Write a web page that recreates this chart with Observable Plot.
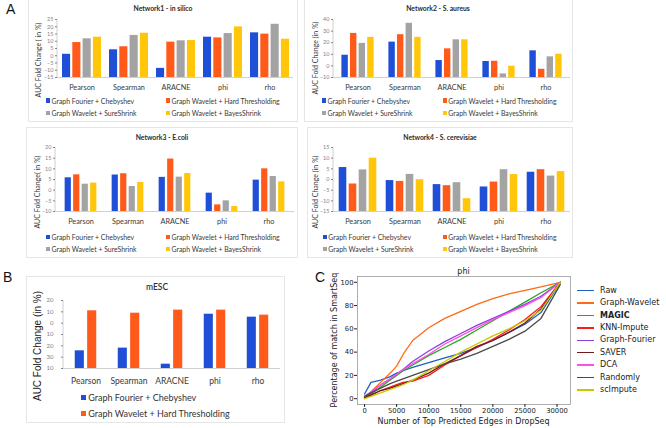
<!DOCTYPE html>
<html><head><meta charset="utf-8">
<script src="https://cdn.jsdelivr.net/npm/d3@7"></script>
<script src="https://cdn.jsdelivr.net/npm/@observablehq/plot@0.6"></script>
<style>
body{margin:0;background:#fff;}
#root{position:relative;width:666px;height:428px;overflow:hidden;background:#fff;font-family:Lato,sans-serif;}
.t{position:absolute;white-space:nowrap;line-height:1;}
.box{position:absolute;border:1px solid #e6e6e6;box-sizing:border-box;background:#fff;}
svg{overflow:visible;}
</style></head><body><div id="root"></div>
<script>
// ---------- DATA ----------
const categories = ["Pearson", "Spearman", "ARACNE", "phi", "rho"];
const methods = ["Graph Fourier + Chebyshev", "Graph Wavelet + Hard Thresholding", "Graph Wavelet + SureShrink", "Graph Wavelet + BayesShrink"];
const methodColors = ["#1f4fd6", "#ff5a1a", "#a3a3a3", "#ffc60a"];

const n1Fourier = [1.0, 4.1, -8.7, 12.8, 15.8];
const n1Hard    = [9.1, 6.2, 9.4, 12.3, 14.9];
const n1Sure    = [11.7, 14.0, 10.3, 15.3, 21.7];
const n1Bayes   = [12.8, 15.5, 10.5, 19.9, 11.4];

const n2Fourier = [9.2, 20.5, 4.6, 3.8, 13.0];
const n2Hard    = [28.0, 26.9, 14.7, 4.0, -2.9];
const n2Sure    = [19.4, 36.7, 22.5, -6.9, 7.8];
const n2Bayes   = [24.6, 24.6, 22.5, -0.3, 10.1];

const n3Fourier = [5.8, 7.1, 6.0, -1.4, 4.7];
const n3Hard    = [7.2, 7.7, 14.6, -6.9, 10.0];
const n3Sure    = [2.8, 1.7, 6.1, -5.0, 6.4];
const n3Bayes   = [3.3, 3.6, 7.8, -7.7, 3.9];

const n4Fourier = [5.6, -0.5, -2.4, -3.5, 3.4];
const n4Hard    = [-2.1, -0.9, -2.9, -1.2, 4.6];
const n4Sure    = [4.5, 2.4, -1.5, 4.6, 1.6];
const n4Bayes   = [10.0, -0.1, -9.0, 2.3, 3.7];

const mescFourier = [-24.4, -22.0, -36.2, 7.9, 5.3];
const mescHard    = [10.9, 8.8, 11.5, 11.5, 7.1];
const mescTicks = [20, 10, 0, -10, -20, -30, -40];
const mescTickLabels = ["20", "10", "0", "10", "20", "30", "10"];

const imputeMethods = ["Raw", "Graph-Wavelet", "MAGIC", "KNN-Impute", "Graph-Fourier", "SAVER", "DCA", "Randomly", "scImpute"];
const imputeColors = ["#1f5fc4", "#ff6a13", "#22aa22", "#ff1a1a", "#8e3ee0", "#6e1c1c", "#ff4fe0", "#4a4a4a", "#c8c800"];
const edgeCounts = [0, 1000, 2500, 4000, 5000, 6000, 7500, 10000, 12500, 15000, 17500, 20000, 22500, 25000, 27500, 30500];
const rawMatch      = [4, 14, 16, 19, 22, 24, 27, 31, 35, 39, 44, 50, 57, 64, 74, 100];
const waveletMatch  = [1, 6, 14, 22, 28, 38, 50, 61, 69, 75, 81, 86, 90, 93, 96, 100];
const magicMatch    = [0, 4, 10, 16, 20, 24, 29, 37, 44, 51, 59, 67, 75, 83, 91, 100];
const knnMatch      = [1, 3, 7, 10, 12, 14, 15, 20, 29, 37, 44, 51, 59, 68, 79, 100];
const fourierMatch  = [1, 5, 12, 17, 21, 25, 32, 41, 49, 56, 63, 69, 75, 81, 88, 100];
const saverMatch    = [1, 3, 7, 9, 11, 13, 16, 22, 30, 37, 45, 50, 57, 65, 77, 100];
const dcaMatch      = [2, 6, 12, 17, 21, 25, 30, 38, 47, 54, 61, 68, 74, 80, 87, 100];
const randomMatch   = [2, 5, 9, 13, 15, 17, 20, 25, 30, 34, 39, 45, 51, 58, 69, 98];
const scimputeMatch = [0, 2, 5, 8, 10, 12, 16, 24, 32, 40, 47, 54, 60, 67, 76, 100];
const cXTicks = [0, 5000, 10000, 15000, 20000, 25000, 30000];
const cYTicks = [0, 20, 40, 60, 80, 100];

// ---------- HELPERS ----------
const root = document.getElementById("root");
function place(el, left, top) {
  el.style.position = "absolute"; el.style.left = left + "px"; el.style.top = top + "px";
  root.appendChild(el);
}
function txt(s, x, y, css, anchor = "middle", rot = false) {
  const d = document.createElement("div");
  d.className = "t"; d.textContent = s;
  d.style.cssText += css;
  d.style.left = x + "px"; d.style.top = y + "px";
  const tx = anchor === "middle" ? "-50%" : anchor === "end" ? "-100%" : "0";
  d.style.transform = rot ? "translate(-50%,-50%) rotate(-90deg)" : `translate(${tx},-50%)`;
  root.appendChild(d);
  return d;
}
function box(l, t, r, b) {
  const d = document.createElement("div"); d.className = "box";
  d.style.left = l + "px"; d.style.top = t + "px"; d.style.width = (r - l) + "px"; d.style.height = (b - t) + "px";
  root.appendChild(d);
}
function leftLine(color) {
  return (index, scales, values, dim) => {
    const l = document.createElementNS("http://www.w3.org/2000/svg", "line");
    l.setAttribute("x1", dim.marginLeft); l.setAttribute("x2", dim.marginLeft);
    l.setAttribute("y1", dim.marginTop); l.setAttribute("y2", dim.height - dim.marginBottom);
    l.setAttribute("stroke", color); l.setAttribute("stroke-width", 0.8);
    return l;
  };
}
function barPanel(cfg) {
  const rows = cfg.series.flatMap((arr, s) => arr.map((v, i) => ({cat: categories[i], s, v})));
  const bw = (cfg.width - cfg.mL - cfg.mR) / categories.length;
  const inset = (bw - cfg.barW) / 2;
  const marks = [
    ...cfg.series.map((arr, s) => Plot.barY(rows.filter(d => d.s === s), {
      x: "cat", y1: cfg.yDomain[0], y2: "v", fill: cfg.colors[s], dx: cfg.offsets[s], insetLeft: inset, insetRight: inset
    })),
    Plot.ruleY([cfg.yDomain[0]], {stroke: "#c4c4c4", strokeWidth: 0.8}),
    leftLine("#c4c4c4"),
    Plot.axisY({ticks: cfg.yTicks, tickSize: 2, tickPadding: cfg.tickPad ?? 2, tickFormat: cfg.tickFmt, fontSize: cfg.tickFont, color: "#7d8492", label: null}),
    Plot.axisX({tickSize: 0, tickPadding: cfg.catPad, fontSize: cfg.catFont, color: "#3a3a3a", label: null})
  ];
  const svg = Plot.plot({
    width: cfg.width, height: cfg.height,
    marginLeft: cfg.mL, marginRight: cfg.mR, marginTop: cfg.mT, marginBottom: cfg.mB,
    x: {domain: categories, padding: 0},
    y: {domain: cfg.yDomain},
    style: {fontFamily: "Lato, sans-serif", background: "transparent", overflow: "visible"},
    marks
  });
  place(svg, cfg.left, cfg.top);
}
function legend2x2(xA, xB, y1, y2, size, font) {
  const pos = [[xA, y1], [xB, y1], [xA, y2], [xB, y2]];
  methods.forEach((m, i) => {
    const s = document.createElement("div");
    s.style.cssText = `position:absolute;left:${pos[i][0]}px;top:${pos[i][1] - size / 2}px;width:${size}px;height:${size}px;background:${methodColors[i]}`;
    root.appendChild(s);
    txt(m, pos[i][0] + size + 1.5, pos[i][1], `font-size:${font}px;color:#3a3a3a;font-family:Lato,sans-serif;`, "start");
  });
}

// ---------- PANEL A ----------
box(28, -2, 298, 122); box(304, -2, 573, 122);
box(26, 127, 298, 258); box(307, 127, 573, 258);
box(26, 276, 285, 423);

txt("A", 6, 9, "font-size:14px;color:#111;font-family:'Liberation Sans',Arial;", "start");

const titleCss = "font-size:6.8px;font-weight:700;color:#2a2a2a;font-family:Lato,sans-serif;";
const ylabCss = "font-size:7px;color:#3a3a3a;font-family:Lato,sans-serif;";

// Network1
txt("Network1 - in silico", 163, 7.5, titleCss);
txt("AUC Fold Change ( in %)", 38, 59.5, ylabCss, "middle", true);
barPanel({series: [n1Fourier, n1Hard, n1Sure, n1Bayes], colors: methodColors, left: 28, top: 0, width: 270, height: 95,
  mL: 29, mR: 5, mT: 19, mB: 18, yDomain: [-15, 25], yTicks: d3.range(-15, 26, 5), tickFont: 5.5, catFont: 7.3, catPad: 7,
  barW: 8.3, offsets: [-15.45, -5.15, 5.15, 15.45]});
legend2x2(45.7, 165.7, 100.5, 113, 4.3, 6.9);

// Network2
txt("Network2 - S. aureus", 438, 7.5, titleCss);
txt("AUC Fold Change (in %)", 315, 58, ylabCss, "middle", true);
barPanel({series: [n2Fourier, n2Hard, n2Sure, n2Bayes], colors: methodColors, left: 304, top: 0, width: 269, height: 95,
  mL: 29, mR: 3, mT: 19, mB: 18, yDomain: [-10, 40], yTicks: d3.range(-10, 41, 10), tickFont: 5.5, catFont: 7.3, catPad: 7,
  barW: 6.8, offsets: [-12.9, -4.3, 4.3, 12.9]});
legend2x2(321.7, 442.5, 100.5, 113, 4.3, 6.9);

// Network3
txt("Network3 - E.coli", 162, 136.5, titleCss);
txt("AUC Fold Change( in %)", 37, 192, ylabCss, "middle", true);
barPanel({series: [n3Fourier, n3Hard, n3Sure, n3Bayes], colors: methodColors, left: 26, top: 126, width: 272, height: 100,
  mL: 29, mR: 4, mT: 21, mB: 15, yDomain: [-10, 20], yTicks: d3.range(-10, 21, 5), tickFont: 5.5, catFont: 7.3, catPad: 7,
  barW: 7, offsets: [-12.75, -4.25, 4.25, 12.75]});
legend2x2(45.7, 165.7, 237, 249, 4.3, 6.9);

// Network4
txt("Network4 - S. cerevisiae", 440, 136.5, titleCss);
txt("AUC Fold Change (in %)", 315, 192, ylabCss, "middle", true);
barPanel({series: [n4Fourier, n4Hard, n4Sure, n4Bayes], colors: methodColors, left: 307, top: 126, width: 266, height: 100,
  mL: 26, mR: 3, mT: 21, mB: 15, yDomain: [-15, 15], yTicks: d3.range(-15, 16, 5), tickFont: 5.5, catFont: 7.3, catPad: 7,
  barW: 8, offsets: [-15, -5, 5, 15]});
legend2x2(322.5, 442.5, 237, 249, 4.3, 6.9);

// ---------- PANEL B ----------
txt("B", 3, 277, "font-size:14px;color:#111;font-family:'Liberation Sans',Arial;", "start");
txt("mESC", 157, 287, "font-size:8.5px;font-weight:600;color:#333;font-family:Lato,sans-serif;");
txt("AUC Fold Change (in %)", 38, 346, "font-size:10px;color:#222;font-family:'Liberation Sans',Arial;", "middle", true);
barPanel({series: [mescFourier, mescHard], colors: methodColors, left: 26, top: 276, width: 259, height: 110,
  mL: 37, mR: 5, mT: 24, mB: 18, yDomain: [-40, 20], yTicks: mescTicks,
  tickFmt: d => mescTickLabels[mescTicks.indexOf(d)], tickFont: 6, tickPad: 8, catFont: 8.5, catPad: 9,
  barW: 9.5, offsets: [-6.2, 6.2]});
[0, 1].forEach(i => {
  const y = [397, 413][i];
  const s = document.createElement("div");
  s.style.cssText = `position:absolute;left:81px;top:${y - 2.5}px;width:5px;height:5px;background:${methodColors[i]}`;
  root.appendChild(s);
  txt(methods[i], 88.3, y, "font-size:9px;color:#333;font-family:Lato,sans-serif;", "start");
});

// ---------- PANEL C ----------
txt("C", 315, 277, "font-size:14px;color:#111;font-family:'Liberation Sans',Arial;", "start");
const cSeries = [rawMatch, waveletMatch, magicMatch, knnMatch, fourierMatch, saverMatch, dcaMatch, randomMatch, scimputeMatch];
const cRows = cSeries.flatMap((arr, s) => arr.map((v, i) => ({m: imputeMethods[s], x: edgeCounts[i], y: v})));
const cPlot = Plot.plot({
  width: 250, height: 162, marginLeft: 32, marginRight: 5, marginTop: 10, marginBottom: 24,
  x: {domain: [-1100, 32100]},
  y: {domain: [-5, 105]},
  style: {fontFamily: "'DejaVu Sans', sans-serif", background: "transparent", overflow: "visible"},
  marks: [
    ...imputeMethods.map((m, s) => Plot.line(cRows.filter(d => d.m === m), {x: "x", y: "y", stroke: imputeColors[s], strokeWidth: 1.3})),
    Plot.frame({stroke: "#9a9a9a", strokeWidth: 0.8}),
    Plot.axisX({ticks: cXTicks, tickSize: 3, tickPadding: 1, fontSize: 6.8, color: "#222", label: null, tickFormat: d => String(d)}),
    Plot.axisY({ticks: cYTicks, tickSize: 3, tickPadding: 1, fontSize: 6.8, color: "#222", label: null})
  ]
});
place(cPlot, 325, 266);
txt("phi", 463.5, 271.5, "font-size:8px;color:#222;font-family:'DejaVu Sans',sans-serif;");
txt("Number of Top Predicted Edges in DropSeq", 463.5, 421.5, "font-size:8px;color:#222;font-family:'DejaVu Sans',sans-serif;");
txt("Percentage of match in SmartSeq", 335, 340, "font-size:8px;color:#222;font-family:'DejaVu Sans',sans-serif;", "middle", true);
imputeMethods.forEach((m, i) => {
  const y = 290.7 + i * 12.4;
  const l = document.createElement("div");
  l.style.cssText = `position:absolute;left:577px;top:${y - 0.8}px;width:16.5px;height:1.6px;background:${imputeColors[i]}`;
  root.appendChild(l);
  txt(m, 600, y, `font-size:8px;color:#222;font-family:'DejaVu Sans',sans-serif;${m === "MAGIC" ? "font-weight:700;" : ""}`, "start");
});
</script></body></html>
